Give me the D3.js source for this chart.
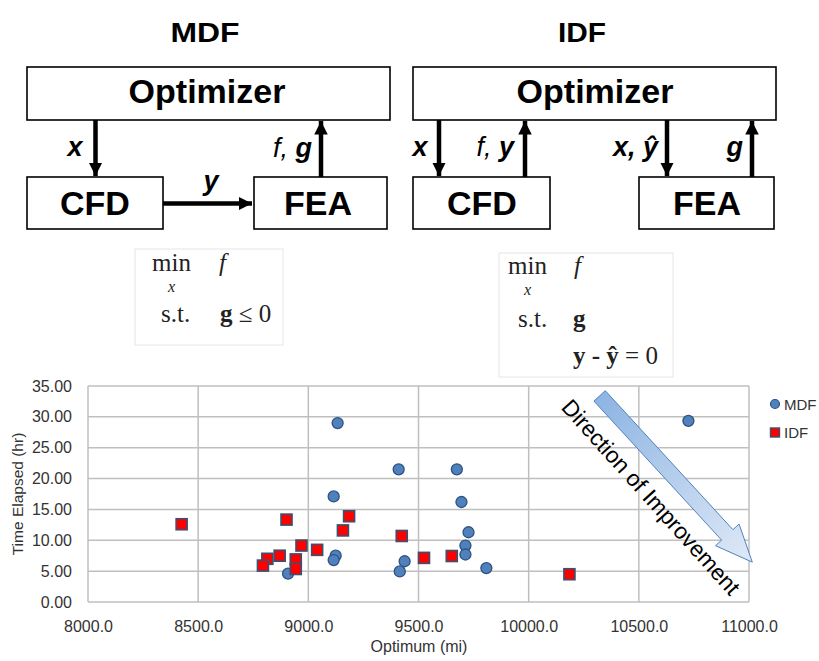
<!DOCTYPE html>
<html>
<head>
<meta charset="utf-8">
<script src="https://cdn.jsdelivr.net/npm/d3@7"></script>
<style>
  html, body { margin: 0; padding: 0; background: #fff; }
  svg { display: block; }
</style>
</head>
<body>
<svg id="chart" width="819" height="661"></svg>
<script>
// ---------------- data ----------------
const mdfX = [9133, 9410, 9115, 9124, 9115, 8908, 9415, 9437, 9674, 9695, 9727, 9713, 9713, 9808, 10725];
const mdfY = [29.0, 21.5, 17.1, 7.5, 6.8, 4.6, 4.95, 6.6, 21.5, 16.2, 11.3, 9.15, 7.7, 5.5, 29.35];
const idfX = [8425, 8901, 9185, 9157, 8969, 9040, 8870, 8814, 8794, 8943, 8943, 9424, 9525, 9651, 10185];
const idfY = [12.6, 13.35, 13.9, 11.6, 9.15, 8.45, 7.5, 7.0, 5.9, 6.9, 5.35, 10.7, 7.15, 7.45, 4.5];
const xTicks = [8000, 8500, 9000, 9500, 10000, 10500, 11000];
const yTicks = [0, 5, 10, 15, 20, 25, 30, 35];
const seriesNames = ["MDF", "IDF"];
const xTitle = "Optimum (mi)";
const yTitle = "Time Elapsed (hr)";
const arrowText = "Direction of Improvement";
// arrow annotation in data space: tail and tip
const arrowTail = [10322, 33.4];
const arrowTip = [11015, 6.46];

const svg = d3.select("#chart");
const SANS = "'Liberation Sans', Arial, sans-serif";
const SERIF = "'Liberation Serif', 'Times New Roman', serif";

// ---------------- top diagrams ----------------
const dg = svg.append("g").attr("class", "diagrams");
const defs = svg.append("defs");
defs.append("marker").attr("id", "ah").attr("viewBox", "0 0 10 10")
  .attr("refX", 10).attr("refY", 5).attr("markerWidth", 3).attr("markerHeight", 3.2)
  .attr("markerUnits", "strokeWidth").attr("orient", "auto")
  .append("path").attr("d", "M0,0 L10,5 L0,10 Z").attr("fill", "#000");

function box(x, y, w, h) {
  dg.append("rect").attr("x", x).attr("y", y).attr("width", w).attr("height", h)
    .attr("fill", "#fff").attr("stroke", "#000").attr("stroke-width", 1.6);
}
function label(x, y, txt, size, len) {
  const t = dg.append("text").attr("x", x).attr("y", y).attr("text-anchor", "middle")
    .attr("font-family", SANS).attr("font-weight", "bold").attr("font-size", size).text(txt);
  if (len) t.attr("textLength", len).attr("lengthAdjust", "spacingAndGlyphs");
  return t;
}
function arrow(x1, y1, x2, y2) {
  dg.append("line").attr("x1", x1).attr("y1", y1).attr("x2", x2).attr("y2", y2)
    .attr("stroke", "#000").attr("stroke-width", 4.5).attr("marker-end", "url(#ah)");
}
function italicLabel(x, y, parts, anchor) {
  const t = dg.append("text").attr("x", x).attr("y", y).attr("text-anchor", anchor || "start")
    .attr("font-family", SANS).attr("font-style", "italic").attr("font-size", 27);
  parts.forEach(p => t.append("tspan").attr("font-weight", p[1] ? "bold" : "normal").text(p[0]));
}

// MDF
label(205, 42, "MDF", 28, 69);
box(27, 67, 363, 53);
label(207, 103, "Optimizer", 34);
box(27, 177, 136, 52);
label(95, 215, "CFD", 34);
box(254, 177, 133, 52);
label(318, 215, "FEA", 34);
arrow(95.5, 120, 95.5, 176);
arrow(321, 177, 321, 121);
arrow(163, 203.5, 252, 203.5);
italicLabel(75, 156, [["x", true]], "middle");
italicLabel(312, 157, [["f", false], [", ", false], ["g", true]], "end");
italicLabel(211, 190, [["y", true]], "middle");

// IDF
label(582, 42, "IDF", 28, 48);
box(413, 67, 363, 53);
label(595, 103, "Optimizer", 34);
box(413, 177, 137, 52);
label(482, 215, "CFD", 34);
box(639, 177, 135, 52);
label(707, 215, "FEA", 34);
arrow(439, 120, 439, 176);
arrow(525, 177, 525, 121);
arrow(667, 120, 667, 176);
arrow(752, 177, 752, 121);
italicLabel(420, 156, [["x", true]], "middle");
italicLabel(514, 156, [["f", false], [", ", false], ["y", true]], "end");
italicLabel(658, 156, [["x, ", true], ["y\u0302", true]], "end");
italicLabel(743, 156, [["g", true]], "end");

// ---------------- equations ----------------
const eq = svg.append("g").attr("class", "equations").attr("font-family", SERIF).attr("fill", "#222");
eq.append("rect").attr("x", 135).attr("y", 249).attr("width", 148).attr("height", 96)
  .attr("fill", "#fff").attr("stroke", "#e6e6e6");
eq.append("rect").attr("x", 499).attr("y", 253).attr("width", 174).attr("height", 124)
  .attr("fill", "#fff").attr("stroke", "#e6e6e6");
function eqText(x, y, parts, size) {
  const t = eq.append("text").attr("x", x).attr("y", y).attr("font-size", size || 25);
  parts.forEach(p => {
    const s = t.append("tspan").text(p[0]);
    if (p[1] === "b") s.attr("font-weight", "bold");
    if (p[1] === "i") s.attr("font-style", "italic");
  });
}
// left (MDF)
eqText(152, 271, [["min"]]);
eqText(168, 292, [["x", "i"]], 16);
eqText(219, 271, [["f", "i"]]);
eqText(161, 322, [["s.t."]]);
eqText(220, 322, [["g", "b"], [" \u2264 0"]]);
// right (IDF)
eqText(508, 274, [["min"]]);
eqText(524, 295, [["x", "i"]], 16);
eqText(574, 274, [["f", "i"]]);
eqText(518, 327, [["s.t."]]);
eqText(573, 327, [["g", "b"]]);
eqText(573, 364, [["y", "b"], [" - ", "b"], ["y\u0302", "b"], [" = 0"]]);

// ---------------- scatter chart ----------------
const plot = { left: 88, right: 749, top: 386, bottom: 602 };
const x = d3.scaleLinear().domain([8000, 11000]).range([plot.left, plot.right]);
const y = d3.scaleLinear().domain([0, 35]).range([plot.bottom, plot.top]);
const ch = svg.append("g").attr("class", "chart");

// gridlines
ch.append("g").selectAll("line.gx").data(xTicks).join("line")
  .attr("x1", d => x(d)).attr("x2", d => x(d)).attr("y1", plot.top).attr("y2", plot.bottom)
  .attr("stroke", "#bfbfbf").attr("stroke-width", 1.5);
ch.append("g").selectAll("line.gy").data(yTicks).join("line")
  .attr("x1", plot.left).attr("x2", plot.right).attr("y1", d => y(d)).attr("y2", d => y(d))
  .attr("stroke", "#bfbfbf").attr("stroke-width", 1.5);

// axes (labels only)
const xAxis = ch.append("g").attr("transform", `translate(0,${plot.bottom})`)
  .call(d3.axisBottom(x).tickValues(xTicks).tickFormat(d3.format(".1f")).tickSize(0).tickPadding(19));
const yAxis = ch.append("g").attr("transform", `translate(${plot.left},0)`)
  .call(d3.axisLeft(y).tickValues(yTicks).tickFormat(d3.format(".2f")).tickSize(0).tickPadding(16));
[xAxis, yAxis].forEach(a => {
  a.select(".domain").remove();
  a.selectAll("text").attr("font-family", SANS).attr("font-size", 16).attr("fill", "#333");
});

ch.append("text").attr("x", 419).attr("y", 652).attr("text-anchor", "middle")
  .attr("font-family", SANS).attr("font-size", 16).attr("fill", "#333").text(xTitle);
ch.append("text").attr("transform", "translate(23,494) rotate(-90)").attr("text-anchor", "middle")
  .attr("font-family", SANS).attr("font-size", 15.5).attr("fill", "#333").text(yTitle);

// Direction of improvement arrow
const tx = x(arrowTail[0]), ty = y(arrowTail[1]);
const hx = x(arrowTip[0]), hy = y(arrowTip[1]);
const len = Math.hypot(hx - tx, hy - ty);
const ang = Math.atan2(hy - ty, hx - tx) * 180 / Math.PI;
const sw = 7.7, hw = 16, hl = 37;
const grad = defs.append("linearGradient").attr("id", "ag").attr("gradientUnits", "userSpaceOnUse")
  .attr("x1", 0).attr("y1", 0).attr("x2", len).attr("y2", 0);
grad.append("stop").attr("offset", "0%").attr("stop-color", "#8db4e3");
grad.append("stop").attr("offset", "100%").attr("stop-color", "#dfe9f6");
const apath = d3.path();
apath.moveTo(0, -sw); apath.lineTo(len - hl, -sw); apath.lineTo(len - hl, -hw);
apath.lineTo(len, 0); apath.lineTo(len - hl, hw); apath.lineTo(len - hl, sw);
apath.lineTo(0, sw); apath.closePath();
ch.append("path").attr("d", apath.toString())
  .attr("transform", `translate(${tx},${ty}) rotate(${ang})`)
  .attr("fill", "url(#ag)").attr("stroke", "#4a7ebb").attr("stroke-width", 0.9);

const at = ch.append("text").attr("transform", `translate(651,497) rotate(48)`)
  .attr("text-anchor", "middle").attr("dominant-baseline", "central")
  .attr("font-family", SANS).attr("font-size", 22).attr("fill", "#000").text(arrowText);
const aw = at.node().getComputedTextLength();
at.attr("font-size", 22 * 254 / aw);

// points
const mdf = mdfX.map((d, i) => ({ x: d, y: mdfY[i] }));
const idf = idfX.map((d, i) => ({ x: d, y: idfY[i] }));
ch.append("g").selectAll("circle").data(mdf).join("circle")
  .attr("cx", d => x(d.x)).attr("cy", d => y(d.y)).attr("r", 5.5)
  .attr("fill", "#4f81bd").attr("stroke", "#2f5283").attr("stroke-width", 1.3);
ch.append("g").selectAll("rect").data(idf).join("rect")
  .attr("x", d => x(d.x) - 5.5).attr("y", d => y(d.y) - 5.5).attr("width", 11).attr("height", 11)
  .attr("fill", "#ff0000").attr("stroke", "#3b5170").attr("stroke-width", 1.6);

// legend
const lg = ch.append("g");
lg.append("circle").attr("cx", 775).attr("cy", 404).attr("r", 4.5)
  .attr("fill", "#4f81bd").attr("stroke", "#2f5283").attr("stroke-width", 1.2);
lg.append("rect").attr("x", 770.5).attr("y", 428).attr("width", 9).attr("height", 9)
  .attr("fill", "#ff0000").attr("stroke", "#3b5170").attr("stroke-width", 1.4);
lg.selectAll("text").data(seriesNames).join("text")
  .attr("x", 784).attr("y", (d, i) => 404 + i * 28.5).attr("dominant-baseline", "central")
  .attr("font-family", SANS).attr("font-size", 15).attr("fill", "#333").text(d => d);
</script>
</body>
</html>
